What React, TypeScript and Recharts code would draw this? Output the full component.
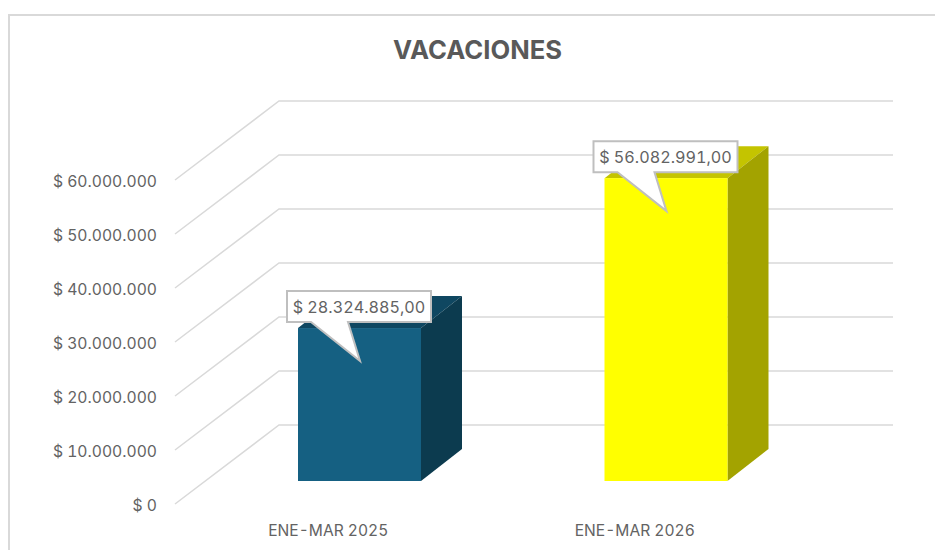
import { BarChart, Bar, XAxis, YAxis, CartesianGrid, LabelList } from 'recharts';

const categories = ['ENE-MAR 2025', 'ENE-MAR 2026'];
const values = [28324885, 56082991];
const yTicks = [0, 10000000, 20000000, 30000000, 40000000, 50000000, 60000000];
const frontColors = ['#156082', '#ffff00'];
const sideColors = ['#0c3b4f', '#a3a300'];
const topColors = ['#0f4761', '#c4c400'];

const chartData = categories.map((name, i) => ({ name, value: values[i] }));

// the 3D look: floor sits in the middle of the depth, walls at full depth
const WALL_DX = 104;
const WALL_DY = 79;
const BAR_DX = 31;
const BAR_DY = 23;
const DEPTH_X = 41;
const DEPTH_Y = 32;
const WALL_RIGHT = 893;

const formatMoney = (v: number) => '$ ' + v.toLocaleString('de-DE');
const formatLabel = (v: number) =>
  '$ ' + v.toLocaleString('de-DE', { minimumFractionDigits: 2, maximumFractionDigits: 2 });

const WallLine = (props: any) => {
  const { x1, y1 } = props;
  return (
    <path
      d={`M${x1},${y1} L${x1 + WALL_DX},${y1 - WALL_DY} L${WALL_RIGHT},${y1 - WALL_DY}`}
      fill="none"
      stroke="#d9d9d9"
      strokeWidth={1.5}
    />
  );
};

const Bar3D = (props: any) => {
  const { x, y, width, height, index } = props;
  const left = x + BAR_DX;
  const right = left + width;
  const top = y - BAR_DY;
  const bottom = top + height;
  return (
    <g>
      <path
        d={`M${left},${top} L${left + DEPTH_X},${top - DEPTH_Y} L${right + DEPTH_X},${top - DEPTH_Y} L${right},${top} Z`}
        fill={topColors[index]}
      />
      <path
        d={`M${right},${top} L${right + DEPTH_X},${top - DEPTH_Y} L${right + DEPTH_X},${bottom - DEPTH_Y} L${right},${bottom} Z`}
        fill={sideColors[index]}
      />
      <rect x={left} y={top} width={width} height={height} fill={frontColors[index]} />
    </g>
  );
};

const Callout = (props: any) => {
  const { x, y, value } = props;
  const bx = x + BAR_DX - 11;
  const by = y - BAR_DY - 37;
  const w = 144;
  const h = 31;
  return (
    <g>
      <path
        d={`M${bx},${by} H${bx + w} V${by + h} H${bx + 61} L${bx + 73},${by + 70} L${bx + 24},${by + h} H${bx} Z`}
        fill="#ffffff"
        stroke="#bfbfbf"
        strokeWidth={2}
      />
      <text
        x={bx + w / 2}
        y={by + h / 2 + 6}
        textAnchor="middle"
        fontFamily="Inter, sans-serif"
        fontSize={16.2}
        fill="#636363"
      >
        {formatLabel(value)}
      </text>
    </g>
  );
};

export default function App() {
  return (
    <div style={{ position: 'absolute', left: 0, top: 0, width: 935, height: 550, overflow: 'hidden', background: '#fff' }}>
      <div
        style={{
          position: 'absolute',
          left: 8,
          top: 14,
          width: 1000,
          height: 600,
          border: '2px solid #d9d9d9',
        }}
      />
      <div
        style={{
          position: 'absolute',
          left: 0,
          width: 955,
          top: 34,
          textAlign: 'center',
          fontFamily: 'Inter, sans-serif',
          fontWeight: 700,
          fontSize: 25.6,
          lineHeight: '32px',
          color: '#595959',
        }}
      >
        VACACIONES
      </div>
      <div style={{ position: 'absolute', left: 0, top: 0 }}>
        <BarChart
          width={935}
          height={550}
          data={chartData}
          margin={{ top: 180, right: 147, bottom: 16, left: 0 }}
          style={{ fontFamily: 'Inter, sans-serif', fontFeatureSettings: '"tnum"' }}
        >
          <CartesianGrid vertical={false} horizontal={WallLine} />
          <XAxis
            dataKey="name"
            height={30}
            axisLine={false}
            tickLine={false}
            tickSize={0}
            tickMargin={21}
            tick={{ fill: '#636363', fontSize: 15.6 }}
          />
          <YAxis
            width={175}
            domain={[0, 60000000]}
            ticks={yTicks}
            tickFormatter={formatMoney}
            axisLine={false}
            tickLine={false}
            tickSize={0}
            tickMargin={18}
            tick={{ fill: '#636363', fontSize: 15.7, dy: 1.5 }}
          />
          <Bar dataKey="value" barSize={123} shape={<Bar3D />} isAnimationActive={false}>
            <LabelList dataKey="value" content={<Callout />} />
          </Bar>
        </BarChart>
      </div>
    </div>
  );
}
